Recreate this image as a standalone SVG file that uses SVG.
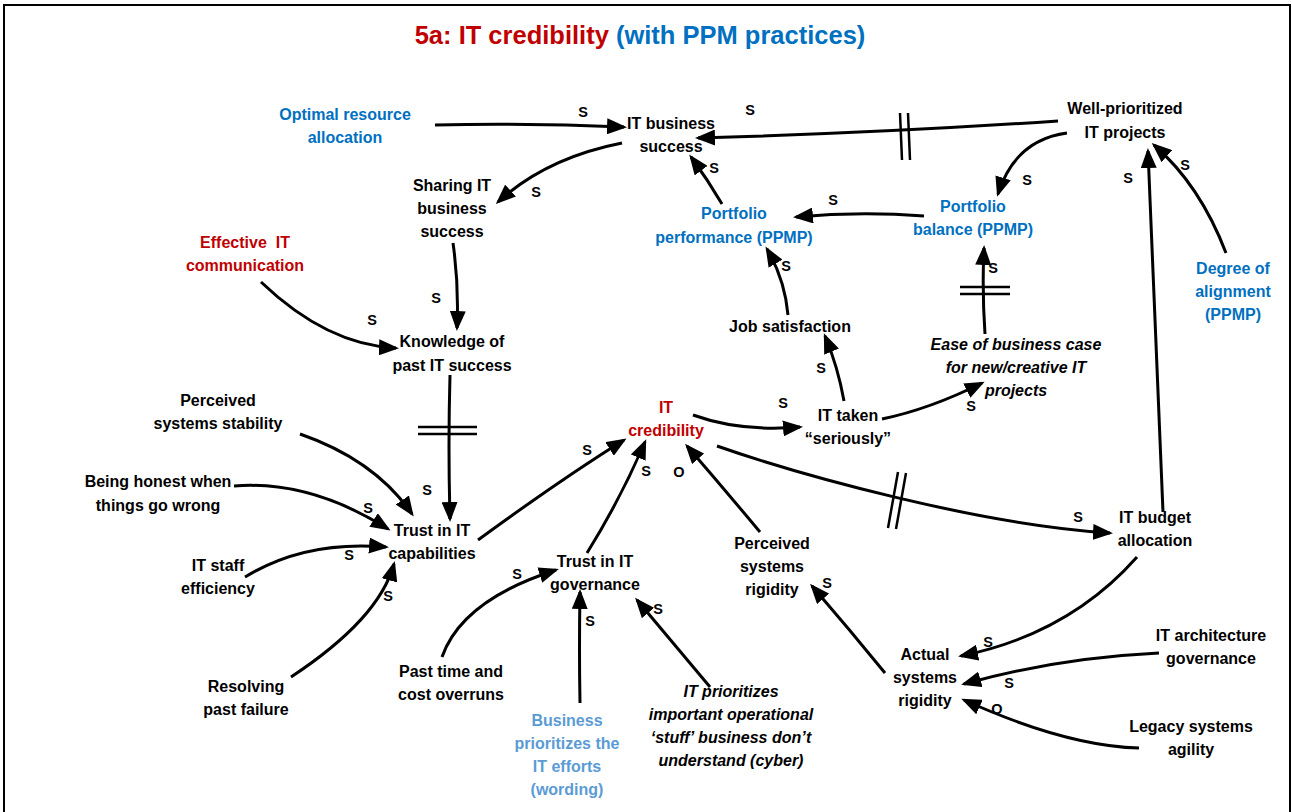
<svg xmlns="http://www.w3.org/2000/svg" width="1292" height="812" viewBox="0 0 1292 812">
  <defs>
    <style>
      .t { font-family: "Liberation Sans", Arial, sans-serif; font-size: 16px; font-weight: bold; fill: #000; text-anchor: middle; }
      .red { fill: #C00000; }
      .blue { fill: #0070C0; }
      .lblue { fill: #5B9BD5; }
      .it { font-style: italic; }
      .lab { font-family: "Liberation Sans", Arial, sans-serif; font-size: 14.5px; font-weight: bold; fill: #000; text-anchor: middle; }
      .c { fill: none; stroke: #000; stroke-width: 3; marker-end: url(#ah); }
      .h { fill: none; stroke: #000; stroke-width: 2.5; }
    </style>
    <marker id="ah" markerUnits="userSpaceOnUse" markerWidth="20" markerHeight="16" refX="17" refY="8" orient="auto">
      <path d="M0,0 L20,8 L0,16 z" fill="#000"/>
    </marker>
  </defs>

  <rect width="1292" height="812" fill="#fff"/>
  <!-- frame -->
  <path d="M4,812 V5 H1290 V812" fill="none" stroke="#000" stroke-width="2"/>

  <!-- title -->
  <text x="640" y="44" style="font-family:'Liberation Sans',Arial,sans-serif;font-size:25.5px;font-weight:bold" text-anchor="middle"><tspan fill="#C00000">5a: IT credibility </tspan><tspan fill="#0070C0">(with PPM practices)</tspan></text>

  <!-- connectors -->
  <g id="connectors">
    <path class="c" d="M435,125 Q530,123 624,127"/>
    <path class="c" d="M1058,121 Q880,133 698,138"/>
    <path class="h" d="M900,113 L902,160 M908,113 L910,160"/>
    <path class="c" d="M622,143 Q546,158 498,202"/>
    <path class="c" d="M722,204 Q708,180 691,157"/>
    <path class="c" d="M1067,133 Q1015,140 998,194"/>
    <path class="c" d="M924,216 Q860,211 796,217"/>
    <path class="c" d="M788,315 Q785,280 767,249"/>
    <path class="c" d="M985,334 Q982,290 984,248"/>
    <path class="h" d="M960,287 L1010,287 M960,294 L1010,294"/>
    <path class="c" d="M882,419 Q930,409 982,383"/>
    <path class="c" d="M844,401 Q838,367 825,336"/>
    <path class="c" d="M693,415 Q740,432 800,427"/>
    <path class="c" d="M717,446 C800,475 980,525 1110,533"/>
    <path class="h" d="M888,528 L898,472 M896,529 L906,473"/>
    <path class="c" d="M1163,512 L1148,151"/>
    <path class="c" d="M1226,253 Q1200,185 1154,145"/>
    <path class="c" d="M453,243 Q459,285 457,328"/>
    <path class="c" d="M261,282 Q327,345 396,348"/>
    <path class="c" d="M450,375 Q448,445 450,519"/>
    <path class="h" d="M418,427 L477,427 M418,434 L477,434"/>
    <path class="c" d="M300,434 Q375,460 412,514"/>
    <path class="c" d="M234,486 Q310,480 388,529"/>
    <path class="c" d="M245,577 Q305,540 386,547"/>
    <path class="c" d="M291,677 Q379,619 394,564"/>
    <path class="c" d="M478,540 Q560,480 624,440"/>
    <path class="c" d="M587,553 Q620,500 645,442"/>
    <path class="c" d="M760,532 Q725,490 687,446"/>
    <path class="c" d="M442,657 Q462,600 556,570"/>
    <path class="c" d="M580,703 Q579,650 580,592"/>
    <path class="c" d="M710,687 Q675,645 637,600"/>
    <path class="c" d="M885,673 Q850,630 812,586"/>
    <path class="c" d="M1137,557 Q1069,634 961,656"/>
    <path class="c" d="M1159,653 Q1056,658 964,684"/>
    <path class="c" d="M1139,748 Q1066,746 964,700"/>
  </g>

  <!-- polarity labels -->
  <g id="labels">
    <text class="lab" x="583" y="117">S</text>
    <text class="lab" x="750" y="115">S</text>
    <text class="lab" x="536" y="197">S</text>
    <text class="lab" x="714" y="173">S</text>
    <text class="lab" x="1027" y="185">S</text>
    <text class="lab" x="833" y="205">S</text>
    <text class="lab" x="786" y="271">S</text>
    <text class="lab" x="993" y="273">S</text>
    <text class="lab" x="971" y="411">S</text>
    <text class="lab" x="821" y="373">S</text>
    <text class="lab" x="783" y="408">S</text>
    <text class="lab" x="1078" y="522">S</text>
    <text class="lab" x="1128" y="183">S</text>
    <text class="lab" x="1185" y="170">S</text>
    <text class="lab" x="436" y="303">S</text>
    <text class="lab" x="372" y="325">S</text>
    <text class="lab" x="427" y="495">S</text>
    <text class="lab" x="368" y="513">S</text>
    <text class="lab" x="349" y="560">S</text>
    <text class="lab" x="388" y="601">S</text>
    <text class="lab" x="587" y="455">S</text>
    <text class="lab" x="646" y="476">S</text>
    <text class="lab" x="679" y="477">O</text>
    <text class="lab" x="517" y="579">S</text>
    <text class="lab" x="590" y="626">S</text>
    <text class="lab" x="658" y="614">S</text>
    <text class="lab" x="827" y="588">S</text>
    <text class="lab" x="988" y="647">S</text>
    <text class="lab" x="1009" y="688">S</text>
    <text class="lab" x="997" y="714">O</text>
  </g>

  <!-- nodes -->
  <g id="optimal-resource-allocation"><text class="t blue" x="345" y="120">Optimal resource<tspan x="345" dy="23">allocation</tspan></text></g>
  <g id="it-business-success"><text class="t" x="671" y="129">IT business<tspan x="671" dy="23">success</tspan></text></g>
  <g id="well-prioritized-it-projects"><text class="t" x="1125" y="114">Well-prioritized<tspan x="1125" dy="24">IT projects</tspan></text></g>
  <g id="sharing-it-business-success"><text class="t" x="452" y="191">Sharing IT<tspan x="452" dy="23">business</tspan><tspan x="452" dy="23">success</tspan></text></g>
  <g id="portfolio-performance"><text class="t blue" x="734" y="219">Portfolio<tspan x="734" dy="24">performance (PPMP)</tspan></text></g>
  <g id="portfolio-balance"><text class="t blue" x="973" y="212">Portfolio<tspan x="973" dy="23">balance (PPMP)</tspan></text></g>
  <g id="effective-it-communication"><text class="t red" x="245" y="248">Effective&#160; IT<tspan x="245" dy="23">communication</tspan></text></g>
  <g id="degree-of-alignment"><text class="t blue" x="1233" y="274">Degree of<tspan x="1233" dy="23">alignment</tspan><tspan x="1233" dy="23">(PPMP)</tspan></text></g>
  <g id="job-satisfaction"><text class="t" x="790" y="332">Job satisfaction</text></g>
  <g id="knowledge-of-past-it-success"><text class="t" x="452" y="347">Knowledge of<tspan x="452" dy="24">past IT success</tspan></text></g>
  <g id="ease-of-business-case"><text class="t it" x="1016" y="350">Ease of business case<tspan x="1016" dy="23">for new/creative IT</tspan><tspan x="1016" dy="23">projects</tspan></text></g>
  <g id="perceived-systems-stability"><text class="t" x="218" y="406">Perceived<tspan x="218" dy="23">systems stability</tspan></text></g>
  <g id="it-credibility"><text class="t red" x="666" y="413">IT<tspan x="666" dy="23">credibility</tspan></text></g>
  <g id="it-taken-seriously"><text class="t" x="848" y="421">IT taken<tspan x="848" dy="23">“seriously”</tspan></text></g>
  <g id="being-honest"><text class="t" x="158" y="487">Being honest when<tspan x="158" dy="24">things go wrong</tspan></text></g>
  <g id="trust-in-it-capabilities"><text class="t" x="432" y="536">Trust in IT<tspan x="432" dy="23">capabilities</tspan></text></g>
  <g id="it-budget-allocation"><text class="t" x="1155" y="523">IT budget<tspan x="1155" dy="23">allocation</tspan></text></g>
  <g id="it-staff-efficiency"><text class="t" x="218" y="571">IT staff<tspan x="218" dy="23">efficiency</tspan></text></g>
  <g id="perceived-systems-rigidity"><text class="t" x="772" y="549">Perceived<tspan x="772" dy="23">systems</tspan><tspan x="772" dy="23">rigidity</tspan></text></g>
  <g id="trust-in-it-governance"><text class="t" x="595" y="567">Trust in IT<tspan x="595" dy="23">governance</tspan></text></g>
  <g id="past-time-and-cost-overruns"><text class="t" x="451" y="677">Past time and<tspan x="451" dy="23">cost overruns</tspan></text></g>
  <g id="resolving-past-failure"><text class="t" x="246" y="692">Resolving<tspan x="246" dy="23">past failure</tspan></text></g>
  <g id="actual-systems-rigidity"><text class="t" x="925" y="660">Actual<tspan x="925" dy="23">systems</tspan><tspan x="925" dy="23">rigidity</tspan></text></g>
  <g id="it-architecture-governance"><text class="t" x="1211" y="641">IT architecture<tspan x="1211" dy="23">governance</tspan></text></g>
  <g id="legacy-systems-agility"><text class="t" x="1191" y="732">Legacy systems<tspan x="1191" dy="23">agility</tspan></text></g>
  <g id="business-prioritizes"><text class="t lblue" x="567" y="726">Business<tspan x="567" dy="23">prioritizes the</tspan><tspan x="567" dy="23">IT efforts</tspan><tspan x="567" dy="23">(wording)</tspan></text></g>
  <g id="it-prioritizes-operational"><text class="t it" x="731" y="697">IT prioritizes<tspan x="731" dy="23">important operational</tspan><tspan x="731" dy="23">‘stuff’ business don’t</tspan><tspan x="731" dy="23">understand (cyber)</tspan></text></g>
</svg>
